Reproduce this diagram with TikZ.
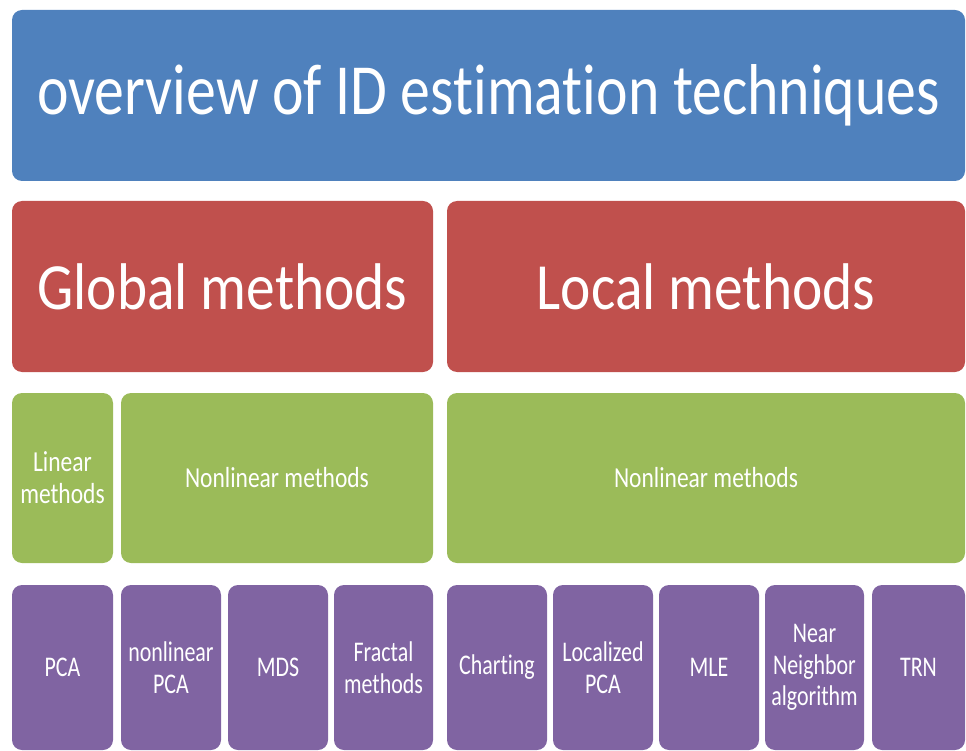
\documentclass[tikz,border=0pt]{standalone}
\usepackage{fontspec}
\setmainfont{Carlito}[Ligatures=NoCommon]
% narrowed Calibri-like faces for each tier
\newfontfamily\titlefont[FakeStretch=0.83, Ligatures=NoCommon]{Carlito}
\newfontfamily\headfont[FakeStretch=0.87, Ligatures=NoCommon]{Carlito}
\newfontfamily\midfont[FakeStretch=0.81, Ligatures=NoCommon]{Carlito}
\newfontfamily\leaffont[FakeStretch=0.77, Ligatures=NoCommon]{Carlito}
\definecolor{tblue}{HTML}{4F81BD}
\definecolor{tred}{HTML}{C0504D}
\definecolor{tgreen}{HTML}{9BBB59}
\definecolor{tpurple}{HTML}{8064A2}
\tikzset{
  tile/.style={rectangle, rounded corners=10pt, inner sep=0pt, text=white, align=center},
  toptile/.style={tile, fill=tblue, font=\titlefont\fontsize{72}{78}\selectfont},
  headtile/.style={tile, fill=tred, font=\headfont\fontsize{66}{72}\selectfont},
  midtile/.style={tile, fill=tgreen, minimum height=170pt, font=\midfont\fontsize{29}{32}\selectfont},
  leaftile/.style={tile, fill=tpurple, minimum height=165pt, font=\leaffont\fontsize{28.5}{31.5}\selectfont},
}
\begin{document}
\begin{tikzpicture}[x=1pt, y=-1pt]
\useasboundingbox (0,0) rectangle (966,751);
% top level
\node[toptile, minimum width=953pt, minimum height=171pt] (overview) at (488.5,95.5) {overview of ID estimation techniques};
% families of methods
\node[headtile, minimum width=421pt, minimum height=171pt] (global) at (222.5,286.5) {Global methods};
\node[headtile, minimum width=518pt, minimum height=171pt] (local) at (706,286.5) {Local methods};
% linear / nonlinear split
\node[midtile, minimum width=101pt] (glin) at (62.5,478) {Linear\\methods};
\node[midtile, minimum width=312pt] (gnonlin) at (277,478) {Nonlinear methods};
\node[midtile, minimum width=518pt] (lnonlin) at (706,478) {Nonlinear methods};
% individual techniques
\node[leaftile, minimum width=101pt] (pca) at (62.5,667.5) {PCA};
\node[leaftile, minimum width=100pt] (nlpca) at (171,667.5) {nonlinear\\PCA};
\node[leaftile, minimum width=100pt] (mds) at (278,667.5) {MDS};
\node[leaftile, minimum width=99pt] (fractal) at (383.5,667.5) {Fractal\\methods};
\node[leaftile, minimum width=100pt] (charting) at (497,667.5) {Charting};
\node[leaftile, minimum width=100pt] (lpca) at (603,667.5) {Localized\\PCA};
\node[leaftile, minimum width=100pt] (mle) at (709,667.5) {MLE};
\node[leaftile, minimum width=99pt] (nna) at (814.5,667.5) {Near\\Neighbor\\algorithm};
\node[leaftile, minimum width=93pt] (trn) at (918.5,667.5) {TRN};
\end{tikzpicture}
\end{document}
